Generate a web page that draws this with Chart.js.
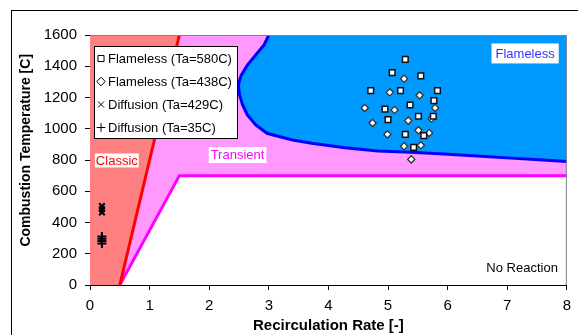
<!DOCTYPE html>
<html>
<head>
<meta charset="utf-8">
<script src="https://cdn.jsdelivr.net/npm/chart.js@4/dist/chart.umd.min.js"></script>
<style>
  body { margin: 0; background: #fff; overflow: hidden; }
  #wrap { position: relative; width: 578px; height: 335px; }
  #frame { position: absolute; left: 11px; top: 10px; width: 700px; height: 400px; border: 1px solid #000; }
  #chart { position: absolute; left: 0; top: 0; }
</style>
</head>
<body>
<div id="wrap"><div id="frame"></div><canvas id="chart" width="578" height="335"></canvas></div>
<script>
// 측정점
var flameless580X = [5.29, 5.07, 5.55, 4.71, 5.21, 5.83, 5.77, 4.95, 5.37, 5.0, 5.51, 5.76, 5.29, 5.6, 5.43];
var flameless580Y = [1444, 1359, 1338, 1244, 1244, 1244, 1180, 1126, 1152, 1058, 1080, 1080, 964, 956, 881];
var flameless438X = [5.27, 5.03, 5.53, 4.61, 5.11, 5.79, 5.34, 5.73, 4.74, 4.99, 5.51, 5.69, 5.27, 5.55, 5.39];
var flameless438Y = [1320, 1233, 1214, 1133, 1120, 1133, 1052, 1065, 1037, 964, 990, 973, 888, 894, 804];
var diffusion429X = [0.2, 0.2, 0.2];
var diffusion429Y = [465, 485, 505];
var diffusion35X = [0.2, 0.2, 0.2, 0.2];
var diffusion35Y = [265, 282, 296, 310];

// 영역 경계
var classicEdgeX = [0, 0.5, 1.5];
var classicEdgeY = [0, 0, 1600];
var transientEdgeX = [0.5, 1.5, 8];
var transientEdgeY = [0, 700, 700];
var flamelessTopX = [2.49, 2.5, 2.54, 2.64, 2.78, 2.92, 3.0, 8];
var flamelessTopY = [1270, 1300, 1344, 1408, 1472, 1536, 1600, 1600];
var flamelessBottomX = [2.49, 2.51, 2.56, 2.64, 2.78, 2.97, 3.17, 3.4, 3.72, 4.28, 4.83, 5.39, 5.94, 6.5, 7.06, 7.61, 8];
var flamelessBottomY = [1270, 1216, 1152, 1088, 1024, 971, 950, 928, 907, 878, 858, 850, 838, 826, 812, 800, 790];

var seriesNames = ["Flameless (Ta=580C)", "Flameless (Ta=438C)", "Diffusion (Ta=429C)", "Diffusion (Ta=35C)"];
var regionNames = ["Classic", "Transient", "Flameless", "No Reaction"];
var regionX = [0.45, 2.475, 7.3, 7.25];
var regionY = [797, 832, 1482, 112];

var xTicks = [0, 1, 2, 3, 4, 5, 6, 7, 8];
var yTicks = [0, 200, 400, 600, 800, 1000, 1200, 1400, 1600];

var FONT = "'Liberation Sans', Arial, sans-serif";

function pts(xs, ys) {
  return xs.map(function (x, i) {
    return { x: x, y: ys[i] };
  });
}

function area(data, color, fill, order) {
  return {
    data: data, backgroundColor: color, borderWidth: 0, pointRadius: 0,
    fill: fill, order: order, tension: 0,
  };
}

function edge(data, color, width) {
  return {
    data: data, borderColor: color, borderWidth: width, pointRadius: 0,
    fill: false, order: 5, tension: 0,
  };
}

function marks(data, style, radius, fillColor, lineColor, width) {
  return {
    data: data, showLine: false, pointStyle: style, pointRadius: radius,
    backgroundColor: fillColor, borderColor: lineColor, borderWidth: width,
    fill: false, order: 1,
  };
}

var datasets = [
  area(pts(transientEdgeX, transientEdgeY), "#ff99ff", "end", 10),          // 0
  area(pts(classicEdgeX, classicEdgeY), "#ff8080", "end", 9),               // 1
  area(pts(flamelessTopX, flamelessTopY), "rgba(0,0,0,0)", false, 8),       // 2
  area(pts(flamelessBottomX, flamelessBottomY), "#0099ff", 2, 8),           // 3
  edge([{ x: 0.5, y: 0 }, { x: 1.5, y: 1600 }], "#ff0000", 3),
  edge(pts(transientEdgeX, transientEdgeY), "#ff00ff", 3),
  edge(pts(flamelessTopX.slice(0, 7).reverse(), flamelessTopY.slice(0, 7).reverse())
    .concat(pts(flamelessBottomX, flamelessBottomY).slice(1)), "#0000ff", 3),
  marks(pts(flameless580X, flameless580Y), "rect", 4, "#ffffff", "#111111", 1.5), // 7
  marks(pts(flameless438X, flameless438Y), "rectRot", 3.6, "#ffffff", "#333333", 1.3), // 8
  marks(pts(diffusion429X, diffusion429Y), "crossRot", 4, "#000", "#000", 2),   // 9
  marks(pts(diffusion35X, diffusion35Y), "cross", 4.5, "#000", "#000", 2),      // 10
];
var legendIdx = [7, 8, 9, 10];

// 플롯 테두리, 영역 이름
var regionPlugin = {
  id: "regions",
  afterDatasetsDraw: function (chart) {
    var ctx = chart.ctx, a = chart.chartArea;
    var sx = chart.scales.x, sy = chart.scales.y;
    ctx.save();
    ctx.strokeStyle = "#808080";
    ctx.lineWidth = 1;
    ctx.beginPath();
    ctx.moveTo(a.left, a.top + 0.5);
    ctx.lineTo(a.right - 0.5, a.top + 0.5);
    ctx.lineTo(a.right - 0.5, a.bottom);
    ctx.stroke();

    var colors = ["#ff0000", "#ff00ff", "#3333ff", "#000000"];
    var padX = [1, 2, 4, 0], padY = [7, 8, 10, 0];
    ctx.font = "13px " + FONT;
    ctx.textAlign = "center";
    ctx.textBaseline = "middle";
    regionNames.forEach(function (name, i) {
      var px = sx.getPixelForValue(regionX[i]);
      var py = sy.getPixelForValue(regionY[i]);
      var w = ctx.measureText(name).width;
      if (padY[i] > 0) {
        ctx.fillStyle = "#ffffff";
        ctx.fillRect(px - w / 2 - padX[i], py - padY[i], w + 2 * padX[i], 2 * padY[i]);
      }
      ctx.fillStyle = colors[i];
      ctx.fillText(name, px, py + 0.5);
    });
    ctx.restore();
  },
};

// 범례 상자
var legendPlugin = {
  id: "boxLegend",
  afterDraw: function (chart) {
    var ctx = chart.ctx, a = chart.chartArea;
    var x0 = a.left + 4, y0 = a.top + 11, w = 143, h = 92;
    ctx.save();
    ctx.fillStyle = "#ffffff";
    ctx.fillRect(x0, y0, w, h);
    ctx.strokeStyle = "#000000";
    ctx.lineWidth = 1;
    ctx.strokeRect(x0 + 0.5, y0 + 0.5, w, h);
    ctx.font = "13px " + FONT;
    ctx.textBaseline = "middle";
    seriesNames.forEach(function (name, i) {
      var ds = chart.data.datasets[legendIdx[i]];
      var y = y0 + 12.5 + i * 23;
      ctx.fillStyle = "#ffffff";
      ctx.strokeStyle = "#000000";
      ctx.lineWidth = 1;
      Chart.helpers.drawPoint(ctx, { pointStyle: ds.pointStyle, radius: 4.3, borderWidth: 1, rotation: 0 }, x0 + 7, y);
      ctx.fillStyle = "#000000";
      ctx.fillText(name, x0 + 14, y + 0.5);
    });
    ctx.restore();
  },
};

function plain(v) {
  return String(v);
}

new Chart(document.getElementById("chart"), {
  type: "line",
  data: { datasets: datasets },
  options: {
    responsive: false,
    animation: false,
    devicePixelRatio: 1,
    layout: { autoPadding: false, padding: { left: 14, top: 35, right: 8, bottom: 0 } },
    plugins: { legend: { display: false }, tooltip: { enabled: false } },
    scales: {
      x: {
        type: "linear", min: 0, max: 8, z: 1,
        afterBuildTicks: function (s) {
          s.ticks = xTicks.map(function (v) { return { value: v }; });
        },
        afterFit: function (s) { s.height = 50; },
        ticks: { color: "#000", font: { size: 15, family: FONT }, padding: 7, maxRotation: 0, callback: plain },
        grid: { drawOnChartArea: false, tickLength: 5, tickColor: "#000" },
        border: { color: "#000", width: 1 },
        title: {
          display: true, text: "Recirculation Rate [-]", color: "#000",
          font: { size: 15, weight: "bold", family: FONT }, padding: { top: 0, bottom: 0 },
        },
      },
      y: {
        type: "linear", min: 0, max: 1600, z: 1,
        afterBuildTicks: function (s) {
          s.ticks = yTicks.map(function (v) { return { value: v }; });
        },
        afterFit: function (s) { s.width = 76; },
        ticks: { color: "#000", font: { size: 15, family: FONT }, padding: 8, callback: plain },
        grid: { drawOnChartArea: false, tickLength: 5, tickColor: "#000" },
        border: { color: "#000", width: 1 },
        title: {
          display: true, text: "     Combustion Temperature [C]", color: "#000",
          font: { size: 14, weight: "bold", family: FONT }, padding: { top: 4, bottom: 0 },
        },
      },
    },
  },
  plugins: [regionPlugin, legendPlugin],
});
</script>
</body>
</html>
